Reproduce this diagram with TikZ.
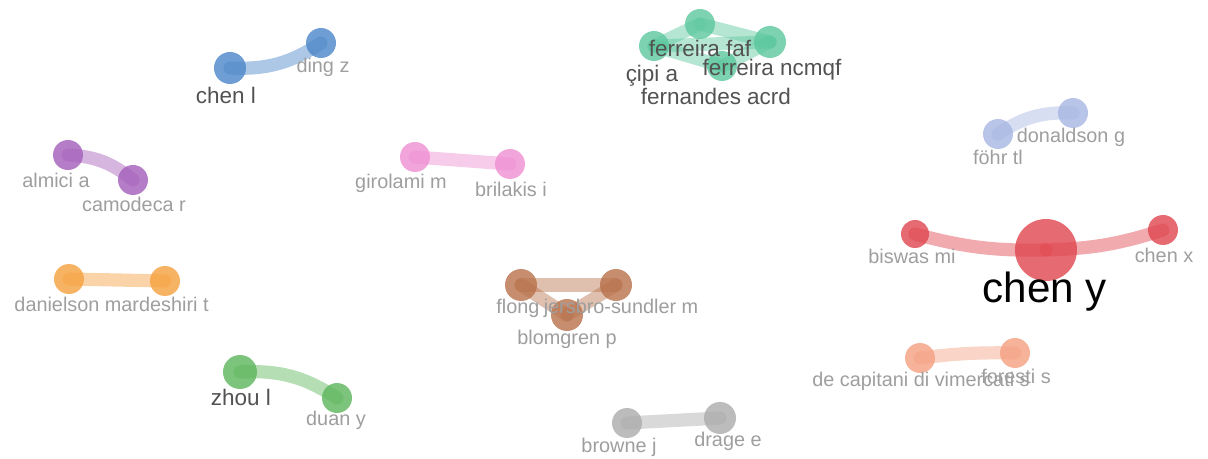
\documentclass[tikz,border=0pt]{standalone}
\usepackage{fontspec}
\setmainfont{Liberation Sans}
\usetikzlibrary{backgrounds}

\definecolor{cblue}{HTML}{4A86C8}
\definecolor{cteal}{HTML}{5CC79E}
\definecolor{cperi}{HTML}{A6B6E2}
\definecolor{cred}{HTML}{E0454E}
\definecolor{cpurple}{HTML}{A35DB9}
\definecolor{cpink}{HTML}{EE8ED2}
\definecolor{corange}{HTML}{F5A03D}
\definecolor{cbrown}{HTML}{B8714A}
\definecolor{csalmon}{HTML}{F4A081}
\definecolor{cgreen}{HTML}{5BB55B}
\definecolor{cgray}{HTML}{ABABAB}

\begin{document}
\begin{tikzpicture}[x=0.02cm,y=-0.02cm,
    author/.style 2 args={circle,inner sep=0pt,fill=#1,fill opacity=.8,minimum size=#2*0.02cm},
    link/.style={draw=#1,draw opacity=.45,line width=7.5pt,line cap=round},
    lbl/.style={text=black!38,inner sep=0pt,font=\fontsize{11.3}{12}\selectfont},
    dlbl/.style={text=black!68,inner sep=0pt,font=\fontsize{12.8}{14}\selectfont},
    biglbl/.style={text=black,inner sep=0pt,font=\fontsize{24}{26}\selectfont}]
    \useasboundingbox (0,0) rectangle (1208,459);

    % blue
    \node[author={cblue}{32}] (chenl) at (230,68) {};
    \node[author={cblue}{30}] (dingz) at (321,43) {};
    % teal
    \node[author={cteal}{30}] (cipi) at (654,46) {};
    \node[author={cteal}{30}] (ffaf) at (700,24) {};
    \node[author={cteal}{32}] (fncmqf) at (770,42) {};
    \node[author={cteal}{30}] (facrd) at (722,66) {};
    % periwinkle
    \node[author={cperi}{30}] (fohr) at (998,134) {};
    \node[author={cperi}{30}] (donald) at (1073,113) {};
    % red
    \node[author={cred}{28}] (biswas) at (915,234) {};
    \node[author={cred}{62}] (cheny) at (1046,250) {};
    \node[author={cred}{30}] (chenx) at (1163,230) {};
    % purple
    \node[author={cpurple}{30}] (almici) at (68,155) {};
    \node[author={cpurple}{30}] (camod) at (133,180) {};
    % pink
    \node[author={cpink}{30}] (girol) at (415,157) {};
    \node[author={cpink}{30}] (brila) at (510,164) {};
    % orange
    \node[author={corange}{30}] (daniel) at (69,279) {};
    \node[author={corange}{30}] (ardesh) at (165,281) {};
    % brown
    \node[author={cbrown}{32}] (flong) at (521,285) {};
    \node[author={cbrown}{32}] (jersbro) at (616,285) {};
    \node[author={cbrown}{32}] (blomg) at (567,315) {};
    % salmon
    \node[author={csalmon}{30}] (capit) at (920,358) {};
    \node[author={csalmon}{30}] (foresti) at (1015,353) {};
    % green
    \node[author={cgreen}{34}] (zhoul) at (240,372) {};
    \node[author={cgreen}{30}] (duany) at (337,398) {};
    % gray
    \node[author={cgray}{30}] (browne) at (627,423) {};
    \node[author={cgray}{32}] (drage) at (720,418) {};

    \begin{scope}[on background layer]
      \draw[link=cblue] (chenl.center) to[bend right=18] (dingz.center);
      \draw[link=cteal] (cipi.center) -- (ffaf.center);
      \draw[link=cteal] (ffaf.center) -- (fncmqf.center);
      \draw[link=cteal] (cipi.center) -- (fncmqf.center);
      \draw[link=cteal] (cipi.center) -- (facrd.center);
      \draw[link=cteal] (fncmqf.center) -- (facrd.center);
      \draw[link=cperi] (fohr.center) to[bend left=18] (donald.center);
      \draw[link=cred] (biswas.center) to[bend right=8] (cheny.center);
      \draw[link=cred] (cheny.center) to[bend right=8] (chenx.center);
      \draw[link=cpurple] (almici.center) to[bend left=18] (camod.center);
      \draw[link=cpink] (girol.center) -- (brila.center);
      \draw[link=corange] (daniel.center) -- (ardesh.center);
      \draw[link=cbrown] (flong.center) -- (jersbro.center);
      \draw[link=cbrown] (flong.center) -- (blomg.center);
      \draw[link=cbrown] (jersbro.center) -- (blomg.center);
      \draw[link=csalmon] (capit.center) to[bend left=4] (foresti.center);
      \draw[link=cgreen] (zhoul.center) to[bend left=18] (duany.center);
      \draw[link=cgray] (browne.center) -- (drage.center);
    \end{scope}

    % labels
    \node[dlbl] (chenl-t) at (226,95) {chen l};
    \node[lbl] (dingz-t) at (323,67) {ding z};
    \node[dlbl] (ffaf-t) at (700,48) {ferreira faf};
    \node[dlbl] (cipi-t) at (652,76) {çipi a};
    \node[dlbl] (fncmqf-t) at (772,70) {ferreira ncmqf};
    \node[dlbl] (facrd-t) at (716,96) {fernandes acrd};
    \node[lbl] (donald-t) at (1071,137) {donaldson g};
    \node[lbl] (fohr-t) at (998,157) {föhr tl};
    \node[lbl] (biswas-t) at (912,256) {biswas mi};
    \node[lbl] (chenx-t) at (1164,255) {chen x};
    \node[biglbl] (cheny-t) at (1045,292) {chen y};
    \node[lbl] (almici-t) at (56,180) {almici a};
    \node[lbl] (camod-t) at (134,204) {camodeca r};
    \node[lbl] (girol-t) at (401,183) {girolami m};
    \node[lbl] (brila-t) at (511,189) {brilakis i};
    \node[lbl] (daniel-t) at (68,304) {danielson m};
    \node[lbl] (ardesh-t) at (165,304) {ardeshiri t};
    \node[lbl] (flong-t) at (518,308) {flong};
    \node[lbl] (jersbro-t) at (621,308) {jersbro-sundler m};
    \node[lbl] (blomg-t) at (567,339) {blomgren p};
    \node[lbl] (capit-t) at (921,381) {de capitani di vimercati s};
    \node[lbl] (foresti-t) at (1016,376) {foresti s};
    \node[dlbl] (zhoul-t) at (241,397) {zhou l};
    \node[lbl] (duany-t) at (336,420) {duan y};
    \node[lbl] (browne-t) at (619,447) {browne j};
    \node[lbl] (drage-t) at (728,441) {drage e};
\end{tikzpicture}
\end{document}
